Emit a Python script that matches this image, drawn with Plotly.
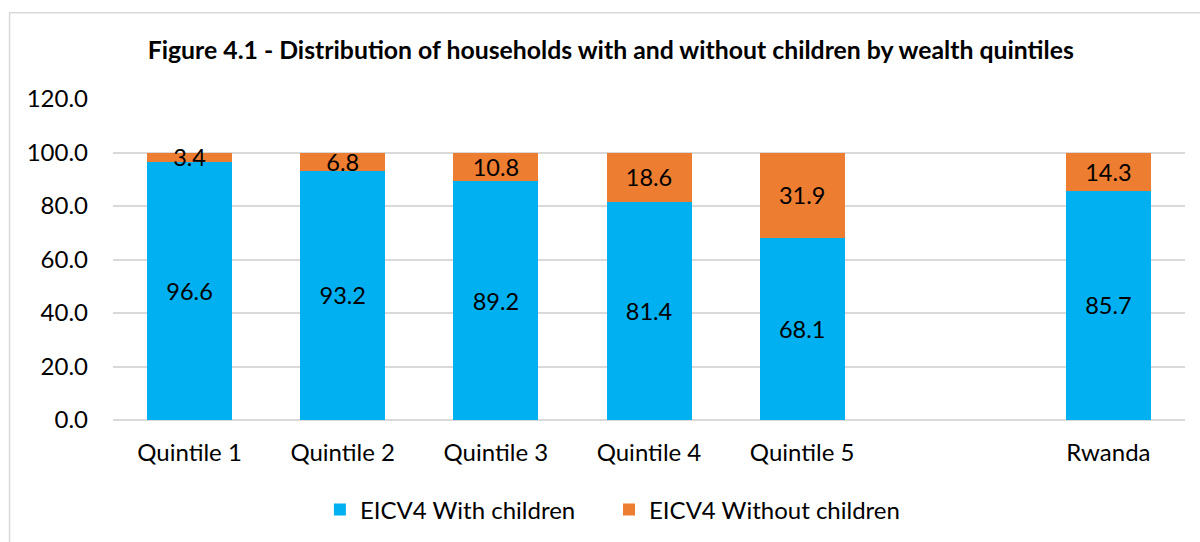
import plotly.graph_objects as go

# Categories (an empty slot separates the quintiles from the national total)
categories = ["Quintile 1", "Quintile 2", "Quintile 3", "Quintile 4", "Quintile 5", " ", "Rwanda"]
with_children = [96.6, 93.2, 89.2, 81.4, 68.1, None, 85.7]
without_children = [3.4, 6.8, 10.8, 18.6, 31.9, None, 14.3]
y_ticks = [0, 20, 40, 60, 80, 100, 120]

BLUE = "#00B0F0"
ORANGE = "#ED7D31"
GRID = "#D9D9D9"
FONT = "Lato, Calibri, Arial, sans-serif"


def fmt(v):
    return "" if v is None else f"{v:.1f}"


fig = go.Figure()

fig.add_trace(go.Bar(
    x=categories, y=with_children, name="EICV4 With children",
    marker=dict(color=BLUE, line=dict(width=0)),
    text=[fmt(v) for v in with_children], textposition="inside",
    insidetextanchor="middle", constraintext="none",
    textfont=dict(family=FONT, size=23.5, color="black"),
    legend="legend",
))
fig.add_trace(go.Bar(
    x=categories, y=without_children, name="EICV4 Without children",
    marker=dict(color=ORANGE, line=dict(width=0)),
    text=[fmt(v) for v in without_children], textposition="inside",
    insidetextanchor="middle", constraintext="none",
    textfont=dict(family=FONT, size=23.5, color="black"),
    legend="legend2",
))

# Outer chart frame
fig.add_shape(type="rect", xref="paper", yref="paper",
              x0=-0.0965, x1=1.2, y0=-0.6, y1=1.269,
              line=dict(color=GRID, width=1.5), fillcolor="rgba(0,0,0,0)", layer="below")

legend_style = dict(
    orientation="h", xanchor="left", y=-0.28, yanchor="middle",
    font=dict(family=FONT, size=24, color="black"),
    itemwidth=30, bgcolor="rgba(0,0,0,0)",
)

fig.update_layout(
    width=1200, height=542,
    margin=dict(l=113, r=15, t=99, b=122, autoexpand=False),
    paper_bgcolor="white", plot_bgcolor="white",
    barmode="stack", bargap=0.445,
    font=dict(family=FONT, size=24, color="black"),
    title=dict(
        text="<b>Figure 4.1 - Distribution of households with and without children by wealth quintiles</b>",
        x=0.509, xref="container", xanchor="center",
        y=1 - 50 / 542, yref="container", yanchor="middle",
        font=dict(family=FONT, size=24.8, color="black"),
    ),
    xaxis=dict(
        type="category", categoryorder="array", categoryarray=categories,
        showgrid=False, showline=False, zeroline=False, ticks="",
        tickfont=dict(family=FONT, size=24, color="black"),
        ticklabelstandoff=16,
    ),
    yaxis=dict(
        range=[0, 120], tickvals=y_ticks, tickformat=".1f",
        showgrid=True, gridcolor=GRID, gridwidth=1.5,
        zeroline=True, zerolinecolor=GRID, zerolinewidth=1.5,
        showline=False, ticks="",
        tickfont=dict(family=FONT, size=24, color="black"),
        ticklabelstandoff=24,
    ),
    legend=dict(x=0.193, **legend_style),
    legend2=dict(x=0.4627, **legend_style),
    showlegend=True,
)

fig.write_html("out.html")
